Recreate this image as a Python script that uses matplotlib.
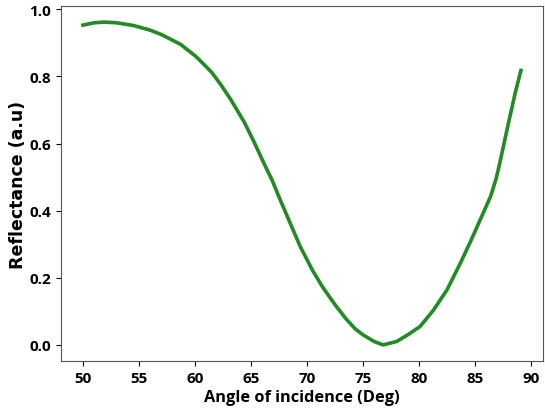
import numpy as np
import matplotlib
matplotlib.use("Agg")
import matplotlib.pyplot as plt

# angle of incidence (deg) and reflectance
angle = [50.0, 51.0, 51.9, 53.0, 54.5, 56.0, 57.0, 58.7, 60.0, 60.5, 61.5,
         62.3, 63.2, 64.4, 65.3, 66.2, 66.9, 67.6, 68.5, 69.4, 70.5, 71.4,
         72.5, 73.5, 74.3, 75.0, 76.0, 76.8, 78.0, 79.0, 80.1, 81.3, 82.5,
         83.7, 84.6, 85.6, 86.4, 86.9, 87.2, 88.0, 88.6, 89.1]
refl = [0.953, 0.960, 0.962, 0.960, 0.952, 0.938, 0.925, 0.896, 0.862, 0.846,
        0.812, 0.776, 0.731, 0.664, 0.603, 0.538, 0.490, 0.433, 0.363, 0.293,
        0.222, 0.172, 0.120, 0.077, 0.048, 0.030, 0.010, 0.000, 0.010, 0.030,
        0.055, 0.104, 0.164, 0.244, 0.308, 0.383, 0.443, 0.497, 0.540, 0.663,
        0.752, 0.818]

plt.rcParams['font.family'] = ['Open Sans', 'DejaVu Sans']

fig = plt.figure(figsize=(5.45, 4.1), dpi=100)
ax = fig.add_axes([0.112, 0.117, 0.884, 0.866])
ax.plot(angle, refl, color='#228b22', lw=2.6)

ax.set_xticks([50, 55, 60, 65, 70, 75, 80, 85, 90])
ax.set_yticks([0.0, 0.2, 0.4, 0.6, 0.8, 1.0])
for lab in ax.get_xticklabels() + ax.get_yticklabels():
    lab.set_fontweight('bold')
    lab.set_fontsize(11)
ax.set_xlabel('Angle of incidence (Deg)', fontsize=11.8, fontweight='bold',
              labelpad=3)
ax.set_ylabel('Reflectance (a.u)', fontsize=12.5, fontweight='bold',
              family='DejaVu Sans', labelpad=2)
for s in ax.spines.values():
    s.set_color('#555555')

fig.savefig('out.png', dpi=100)
